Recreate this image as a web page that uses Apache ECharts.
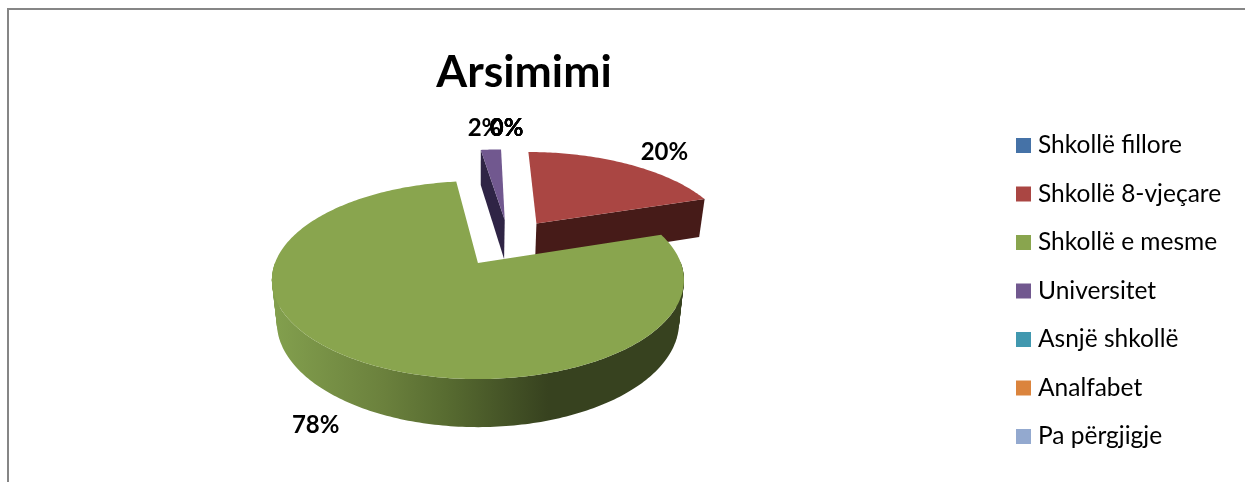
<!DOCTYPE html>
<html><head><meta charset="utf-8">
<style>html,body{margin:0;padding:0;background:#fff}#c{width:1245px;height:482px}</style>
<script src="https://cdn.jsdelivr.net/npm/echarts@6/dist/echarts.min.js"></script>
</head><body><div id="c"></div>
<script>
const categories = ['Shkollë fillore','Shkollë 8-vjeçare','Shkollë e mesme','Universitet','Asnjë shkollë','Analfabet','Pa përgjigje'];
const values = [0, 20, 78, 2, 0, 0, 0];
const colors = ['#4572A7','#AA4643','#89A54E','#71588F','#4198AF','#DB843D','#93A9CF'];
const wallColors = ['#2a4464','#461b18','#37421f','#2f2445','#275b69','#834f24','#58657c'];
const FONT = 'Lato';

// perspective model of the pie plane
const CX = 478, CY = 280, RX = 206, RY = 99, TILT = 0.172, EXPLODE = 0.26;
const CENTER = [0.139, -0.219];
const sliceShift = [[0,0],[0.018,-0.012],[0,0],[0.02,-0.005],[0,0],[0,0],[0,0]];
const total = values.reduce((a, b) => a + b, 0);

function toScreen(u, v) {
  const w = 1 - TILT * v;
  return [CX + RX * Math.sqrt(1 - TILT * TILT) * u / w, CY + RY * (v - TILT) / w];
}
function drop(p) {
  const depth = 35 + (p[1] - 150) * 0.057;
  return [CX + (p[0] - CX) * 0.976, p[1] + depth];
}
function sliceAngles(i) {
  let before = 0;
  for (let k = 0; k < i; k++) before += values[k];
  return [before / total * 2 * Math.PI, (before + values[i]) / total * 2 * Math.PI];
}
function dir(a) { return [Math.sin(a), -Math.cos(a)]; }

const labelNudge = [[7,-4],[13,3],[12,-8],[-3,-4],[7,-4],[7,-4],[7,-4]];
const zOrder = [1,2,4,1,1,1,1];
const greenWall = {
  type: 'linear', x: 272, y: 0, x2: 684, y2: 0, global: true,
  colorStops: [
    { offset: 0, color: '#83a04e' }, { offset: 0.27, color: '#6b813d' },
    { offset: 0.42, color: '#586c31' }, { offset: 0.67, color: '#37421f' },
    { offset: 1, color: '#37421f' }
  ]
};

function makeRender(i) {
  return function () {
    const [a0, a1] = sliceAngles(i);
    const mid = (a0 + a1) / 2, m = dir(mid);
    const ox = CENTER[0] + EXPLODE * m[0] + sliceShift[i][0], oy = CENTER[1] + EXPLODE * m[1] + sliceShift[i][1];
    const at = (a, r) => { const d = dir(a); return toScreen(ox + r * d[0], oy + r * d[1]); };
    const children = [];
    const z = zOrder[i];
    if (values[i] > 0) {
      const n = Math.max(12, Math.round((a1 - a0) * 60));
      const arc = [], front = [];
      for (let k = 0; k <= n; k++) {
        const a = a0 + (a1 - a0) * k / n;
        const p = at(a, 1);
        arc.push(p);
        if (dir(a)[1] > -0.02) front.push(p);
      }
      const apex = toScreen(ox, oy);
      const wallFill = i === 2 ? greenWall : wallColors[i];
      const wall = (pts) => children.push({ type: 'polygon', z2: z,
        shape: { points: pts.concat(pts.map(drop).reverse()) }, style: { fill: wallFill } });
      // radial cut faces, only when they face the viewer
      if (dir(a0 - Math.PI / 2)[1] > 0.01) wall([apex, arc[0]]);
      if (dir(a1 + Math.PI / 2)[1] > 0.01) wall([apex, arc[n]]);
      // curved outer wall, plus fans at the silhouette where the band pinches
      if (front.length > 1) {
        wall(front);
        let lo = 0, hi = 0;
        front.forEach((p, k) => {
          if (p[0] < front[lo][0]) lo = k;
          if (p[0] > front[hi][0]) hi = k;
        });
        [lo, hi].forEach((e) => {
          for (let j = -12; j <= 12; j++) {
            const q = front[e + j];
            if (j !== 0 && q) wall([front[e], q]);
          }
        });
      }
      children.push({ type: 'polygon', z2: z + 1,
        shape: { points: [apex].concat(arc) }, style: { fill: colors[i] } });
    }
    const lp = at(mid, 1.3);
    const below = m[1] > 0 ? 40 : 0;
    children.push({ type: 'text', z2: 10,
      x: lp[0] + labelNudge[i][0], y: lp[1] + below + labelNudge[i][1],
      style: { text: Math.round(values[i] / total * 100) + '%', fill: '#000',
        font: 'bold 24px ' + FONT, align: 'center', verticalAlign: 'middle' } });
    return { type: 'group', children };
  };
}

const chart = echarts.init(document.getElementById('c'), null, { renderer: 'canvas' });
chart.setOption({
  animation: false,
  backgroundColor: '#fff',
  title: { text: 'Arsimimi', left: 519, top: 45, textAlign: 'center',
    textStyle: { fontFamily: FONT, fontWeight: 'bold', fontSize: 44.5, color: '#000' } },
  legend: {
    orient: 'vertical', left: 1011, top: 128, icon: 'rect',
    itemWidth: 15, itemHeight: 15, itemGap: 23.5,
    data: categories,
    selectedMode: false,
    textStyle: { fontFamily: FONT, fontSize: 24.5, color: '#000', padding: [0,0,0,2], lineHeight: 25 }
  },
  graphic: [
    { type: 'polyline', silent: true, shape: { points: [[8, 482], [8, 9], [1245, 9]] },
      style: { stroke: '#868686', lineWidth: 2, fill: null } }
  ],
  series: categories.map((name, i) => ({
    type: 'custom', name, coordinateSystem: 'none',
    itemStyle: { color: colors[i] },
    data: [values[i]], renderItem: makeRender(i), silent: true
  }))
});
</script></body></html>
